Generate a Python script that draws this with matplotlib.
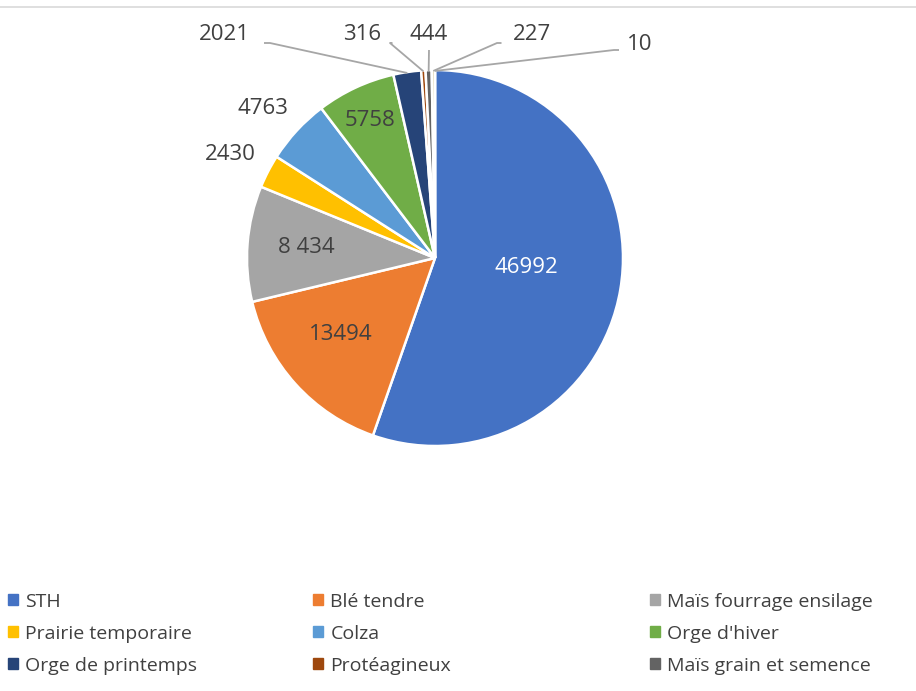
import matplotlib
matplotlib.use("Agg")
import matplotlib.pyplot as plt
import matplotlib.patches as mpatches
import numpy as np

plt.rcParams["font.family"] = ["Open Sans", "DejaVu Sans"]

# ── données ──────────────────────────────────────────────────────────────
categories = ["STH", "Blé tendre", "Maïs fourrage ensilage",
              "Prairie temporaire", "Colza", "Orge d'hiver",
              "Orge de printemps", "Protéagineux", "Maïs grain et semence",
              "", ""]
values = [46992, 13494, 8434, 2430, 4763, 5758, 2021, 316, 444, 227, 10]
value_labels = ["46992", "13494", "8 434", "2430", "4763", "5758",
                "2021", "316", "444", "227", "10"]
colors = ["#4472C4", "#ED7D31", "#A5A5A5", "#FFC000", "#5B9BD5", "#70AD47",
          "#264478", "#9E480E", "#636363", "#997300", "#255E91"]

DARK = "#404040"
LINE = "#A6A6A6"

# ── canevas : 1 unité = 188 px, centre du camembert à (435, 258) px ──────
W, H = 916, 691
S, CX, CY = 188.0, 435.0, 258.0
fig = plt.figure(figsize=(W / 100, H / 100), dpi=100)
ax = fig.add_axes([0, 0, 1, 1])


def px(x, y):
    return (x - CX) / S, (CY - y) / S


wedges, _ = ax.pie(values, colors=colors, startangle=90, counterclock=False,
                   radius=1.0, center=(0, 0), frame=True,
                   wedgeprops=dict(edgecolor="white", linewidth=1.8))
ax.set_xlim(-CX / S, (W - CX) / S)
ax.set_ylim((CY - H) / S, CY / S)
ax.set_aspect("equal")
ax.axis("off")

# bordure du graphique (haut)
ax.plot([-CX / S, (W - CX) / S], [(CY - 7) / S] * 2, color="#D9D9D9", lw=1.2)

# étiquettes internes / proches
inner = {0: ((526, 268), "white"), 1: ((341, 335), DARK), 2: ((306, 248), DARK),
         3: ((230, 155), DARK), 4: ((263, 108), DARK), 5: ((370, 121), DARK)}
for i, ((x, y), c) in inner.items():
    ax.text(*px(x, y), value_labels[i], ha="center", va="center",
            fontsize=16, color=c)

# étiquettes avec lignes de rappel
outer = {6: ((224, 35), (270, 43)), 7: ((362, 35), (390, 43)),
         8: ((429, 35), (429, 50)), 9: ((532, 35), (497, 43)),
         10: ((640, 45), (614, 50))}
for i, ((x, y), (ex, ey)) in outer.items():
    w = wedges[i]
    mid = np.deg2rad((w.theta1 + w.theta2) / 2)
    edge = (np.cos(mid) * 0.995, np.sin(mid) * 0.995)
    ax.text(*px(x, y), value_labels[i], ha="center", va="center",
            fontsize=16, color=DARK)
    tx = x + (-1 if ex < x else 1) * (len(value_labels[i]) * 9.5 + 2)
    if i == 8:
        pts = [px(ex, ey), edge]
    else:
        pts = [px(tx, ey), px(ex, ey), edge]
    ax.plot([p[0] for p in pts], [p[1] for p in pts], color=LINE, lw=1.3,
            solid_capstyle="butt")

# légende : trois colonnes
col_x = [0.0, 0.333, 0.701]
for c in range(3):
    handles = [mpatches.Patch(color=colors[i], label=categories[i])
               for i in range(c, 9, 3)]
    fig.legend(handles=handles, loc="upper left",
               bbox_to_anchor=(col_x[c], 1 - 585 / H), frameon=False,
               fontsize=14, handlelength=0.5, handleheight=0.5,
               handletextpad=0.4, labelspacing=0.72, labelcolor=DARK,
               borderaxespad=0)

fig.savefig("out.png", dpi=100, facecolor="white")
